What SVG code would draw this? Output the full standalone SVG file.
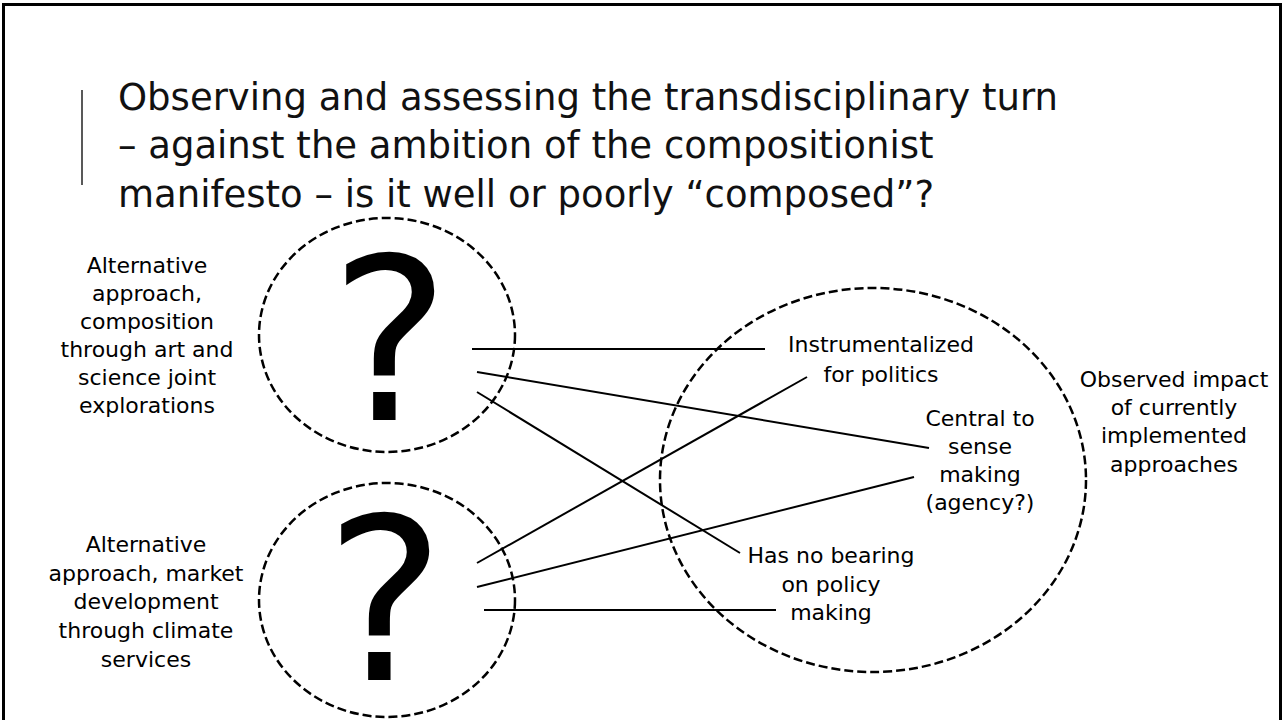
<svg xmlns="http://www.w3.org/2000/svg" width="1285" height="720" viewBox="0 0 1285 720">
<style>
  .title{font-family:"DejaVu Sans","Liberation Sans",sans-serif;font-size:37px;fill:#111}
  .lbl{font-family:"DejaVu Sans","Liberation Sans",sans-serif;font-size:22px;fill:#000;text-anchor:middle}
  .q{font-family:"DejaVu Sans","Liberation Sans",sans-serif;font-size:226px;fill:#000;text-anchor:middle}
  .ring{fill:none;stroke:#000;stroke-width:2.5;stroke-dasharray:9 4}
  .conn line{stroke:#000;stroke-width:2}
</style>
<rect x="0" y="0" width="1285" height="720" fill="#fff"/>
<rect x="3.5" y="4.5" width="1277" height="800" fill="none" stroke="#000" stroke-width="3"/>
<line x1="82" y1="90" x2="82" y2="185" stroke="#222" stroke-width="1.5"/>
<g id="title">
  <text class="title" x="118" y="110">Observing and assessing the transdisciplinary turn</text>
  <text class="title" x="118" y="158">– against the ambition of the compositionist</text>
  <text class="title" x="118" y="207">manifesto – is it well or poorly “composed”?</text>
</g>
<g id="node-top">
  <ellipse class="ring" cx="387" cy="335" rx="128" ry="117"/>
  <text class="q" x="390" y="420">?</text>
</g>
<g id="label-top">
  <text class="lbl" x="147" y="273">Alternative</text>
  <text class="lbl" x="147" y="301">approach,</text>
  <text class="lbl" x="147" y="329">composition</text>
  <text class="lbl" x="147" y="357">through art and</text>
  <text class="lbl" x="147" y="385">science joint</text>
  <text class="lbl" x="147" y="413">explorations</text>
</g>
<g id="node-bottom">
  <ellipse class="ring" cx="387" cy="600" rx="128" ry="117"/>
  <text class="q" x="385" y="680">?</text>
</g>
<g id="label-bottom">
  <text class="lbl" x="146" y="552">Alternative</text>
  <text class="lbl" x="146" y="581">approach, market</text>
  <text class="lbl" x="146" y="609">development</text>
  <text class="lbl" x="146" y="638">through climate</text>
  <text class="lbl" x="146" y="667">services</text>
</g>
<g id="node-impact">
  <ellipse class="ring" cx="873" cy="480" rx="213" ry="192"/>
</g>
<g id="label-impact">
  <text class="lbl" x="1174" y="387">Observed impact</text>
  <text class="lbl" x="1174" y="415">of currently</text>
  <text class="lbl" x="1174" y="443">implemented</text>
  <text class="lbl" x="1174" y="472">approaches</text>
</g>
<g id="outcome-instrumentalized">
  <text class="lbl" x="881" y="352">Instrumentalized</text>
  <text class="lbl" x="881" y="382">for politics</text>
</g>
<g id="outcome-central">
  <text class="lbl" x="980" y="426">Central to</text>
  <text class="lbl" x="980" y="454">sense</text>
  <text class="lbl" x="980" y="482">making</text>
  <text class="lbl" x="980" y="510">(agency?)</text>
</g>
<g id="outcome-nobearing">
  <text class="lbl" x="831" y="563">Has no bearing</text>
  <text class="lbl" x="831" y="592">on policy</text>
  <text class="lbl" x="831" y="620">making</text>
</g>
<g id="connectors" class="conn">
  <line x1="472" y1="349" x2="765" y2="349"/>
  <line x1="477" y1="372" x2="929" y2="448"/>
  <line x1="477" y1="392" x2="740" y2="553"/>
  <line x1="477" y1="563" x2="807" y2="377"/>
  <line x1="477" y1="587" x2="914" y2="477"/>
  <line x1="484" y1="610" x2="776" y2="610"/>
</g>
</svg>
